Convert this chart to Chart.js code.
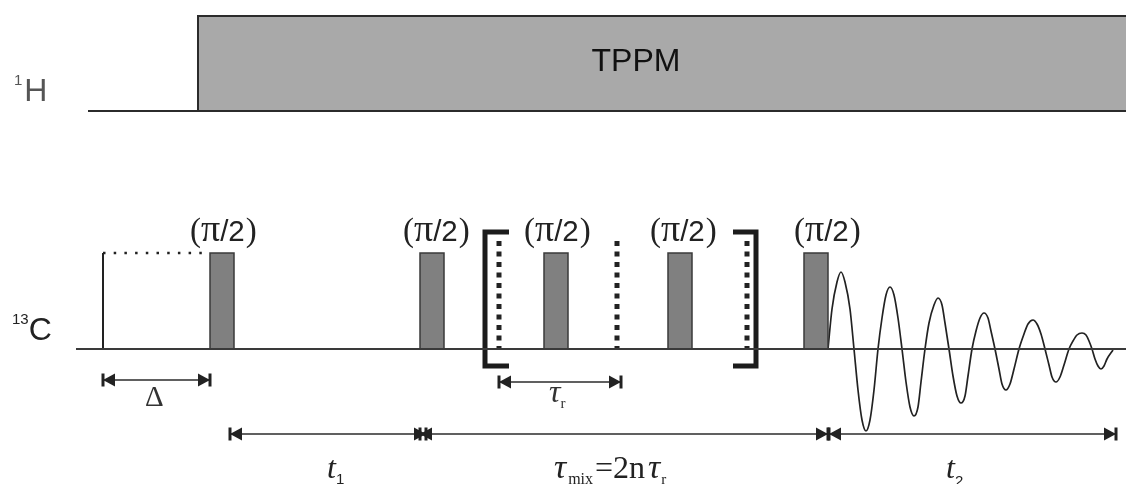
<!DOCTYPE html>
<html>
<head>
<meta charset="utf-8">
<title>Pulse sequence</title>
<script src="https://cdn.jsdelivr.net/npm/chart.js@4/dist/chart.umd.min.js"></script>
<style>
html, body { margin: 0; padding: 0; background: #fff; }
canvas { display: block; }
</style>
</head>
<body>
<canvas id="sequence" width="1126" height="484"></canvas>
<script>
// channel levels and pulse edges
var protonLevel = 238;
var protonTop = 333;
var protonStart = [88, 198];
var protonEnd = 1126;
var carbonStart = 76;
var carbonEnd = 1126;
var pulseHeight = 96;
var pulseStart = [210, 420, 544, 668, 804];
var pulseEnd = [234, 444, 568, 692, 828];
var delayTime = [103, 205];
var rotorTimes = [499, 617, 747];
var rotorDotTop = 108;
var bracketLeft = [509, 485, 485, 509];
var bracketRight = [733, 756, 756, 733];
var bracketLevels = [117, 117, -17, -17];

// free induction decay, lobe by lobe
var fidTime = [828, 832, 837, 841, 845, 850, 854, 858, 862, 866, 870, 874, 878, 882, 886, 890, 894, 898, 902, 906, 910, 914, 918, 921, 925, 929, 934, 938, 942, 945, 949, 953, 957, 961, 965, 968, 972, 976, 980, 984, 988, 991, 995, 999, 1002, 1006, 1010, 1014, 1019, 1024, 1028, 1033, 1037, 1041, 1045, 1049, 1052, 1056, 1060, 1064, 1069, 1073, 1077, 1082, 1086, 1089, 1092, 1095, 1098, 1101, 1104, 1107, 1113];
var fidAmplitude = [0, 40, 67, 77, 67, 40, 0, -41, -71, -82, -71, -41, 0, 31, 54, 62, 54, 31, 0, -33, -58, -67, -58, -33, 0, 26, 44, 51, 44, 26, 0, -27, -47, -54, -47, -27, 0, 18, 31, 36, 31, 18, 0, -20, -35, -41, -35, -20, 0, 15, 25, 29, 25, 15, 0, -16, -28, -33, -28, -16, 0, 8, 14, 16, 14, 8, 0, -10, -17, -20, -17, -10, -1];

// time spans with arrows
var spanStart = [103, 499, 230, 420, 829];
var spanEnd = [210, 621, 426, 828, 1116];
var spanLevel = [-31, -33, -85, -85, -85];

var pulseLabelCentre = [224, 437, 558, 684, 828];
var pulseLabelLevel = 108;

var serif = '"Liberation Serif"';
var sans = '"Liberation Sans"';

function line(points, color, width, extra) {
	return Object.assign({
		data: points,
		showLine: true,
		borderColor: color,
		borderWidth: width,
		pointRadius: 0,
		tension: 0,
		fill: false
	}, extra || {});
}

function arrowHead() {
	var c = document.createElement('canvas');
	c.width = 26;
	c.height = 14;
	var g = c.getContext('2d');
	g.fillStyle = '#222';
	g.fillRect(11.5, 0.5, 3, 13);
	g.beginPath();
	g.moveTo(13, 7);
	g.lineTo(25, 0.5);
	g.lineTo(25, 13.5);
	g.closePath();
	g.fill();
	return c;
}

var head = arrowHead();
var datasets = [];

// baselines
datasets.push(line([{x: protonStart[0], y: protonLevel}, {x: protonEnd, y: protonLevel}], '#2b2b2b', 2));
datasets.push(line([{x: carbonStart, y: 0}, {x: carbonEnd, y: 0}], '#3a3a3a', 2));

// TPPM block
datasets.push(line([
	{x: protonStart[1], y: protonLevel},
	{x: protonStart[1], y: protonTop},
	{x: protonEnd, y: protonTop}
], '#2b2b2b', 2, {fill: {value: protonLevel}, backgroundColor: '#a9a9a9'}));

// pulses
pulseStart.forEach(function(s, i) {
	datasets.push(line([
		{x: s, y: 0},
		{x: s, y: pulseHeight},
		{x: pulseEnd[i], y: pulseHeight},
		{x: pulseEnd[i], y: 0}
	], '#3a3a3a', 1.5, {fill: {value: 0}, backgroundColor: '#808080'}));
});

// delay before first pulse
datasets.push(line([{x: delayTime[0], y: 0}, {x: delayTime[0], y: pulseHeight}], '#222', 2));
datasets.push(line([{x: delayTime[0], y: pulseHeight}, {x: delayTime[1], y: pulseHeight}], '#222', 2.5, {borderDash: [2.5, 8.2]}));

// rotor period markers
rotorTimes.forEach(function(t) {
	datasets.push(line([{x: t, y: rotorDotTop}, {x: t, y: 0}], '#222', 5, {borderDash: [5, 5.5]}));
});

// brackets
[bracketLeft, bracketRight].forEach(function(xs) {
	datasets.push(line(xs.map(function(x, i) {
		return {x: x, y: bracketLevels[i]};
	}), '#1c1c1c', 5, {borderJoinStyle: 'miter'}));
});

// FID
datasets.push(line(fidTime.map(function(t, i) {
	return {x: t, y: fidAmplitude[i]};
}), '#222', 1.7, {cubicInterpolationMode: 'monotone'}));

// arrows
spanStart.forEach(function(s, i) {
	datasets.push(line([{x: s, y: spanLevel[i]}, {x: spanEnd[i], y: spanLevel[i]}], '#2b2b2b', 1.7, {
		pointRadius: 7,
		pointStyle: head,
		pointRotation: [0, 180]
	}));
});

function runs(ctx, x, y, list) {
	list.forEach(function(r) {
		ctx.font = r.f;
		ctx.fillStyle = r.c || '#222';
		x += r.gap || 0;
		ctx.fillText(r.t, x, y + (r.dy || 0));
		x += ctx.measureText(r.t).width;
	});
}

var textPlugin = {
	id: 'sequenceText',
	afterDraw: function(chart) {
		var ctx = chart.ctx;
		var sx = chart.scales.x;
		var sy = chart.scales.y;
		function at(x, level, list) {
			runs(ctx, sx.getPixelForValue(x), sy.getPixelForValue(level), list);
		}
		ctx.save();
		ctx.textAlign = 'left';
		ctx.textBaseline = 'alphabetic';

		ctx.font = '32px ' + sans;
		ctx.fillStyle = '#111';
		ctx.textAlign = 'center';
		ctx.fillText('TPPM', sx.getPixelForValue(636), sy.getPixelForValue(278));
		ctx.textAlign = 'left';

		at(14, 264, [
			{t: '1', f: '15px ' + sans, c: '#555'},
			{t: 'H', f: '32px ' + sans, c: '#555', dy: 16, gap: 2}
		]);
		at(12, 25, [
			{t: '13', f: '15px ' + sans},
			{t: 'C', f: '32px ' + sans, dy: 16}
		]);

		pulseLabelCentre.forEach(function(c) {
			at(c - 34, pulseLabelLevel, [
				{t: '(', f: '33px ' + serif},
				{t: 'π', f: '38px ' + serif},
				{t: '/2', f: '29.5px ' + sans},
				{t: ')', f: '33px ' + serif, gap: 1}
			]);
		});

		at(145, -57, [{t: 'Δ', f: '29px ' + serif, c: '#333'}]);
		at(549, -53, [
			{t: 'τ', f: 'italic 32px ' + serif, c: '#333'},
			{t: 'r', f: '15px ' + serif, c: '#333', dy: 6}
		]);
		at(327, -129, [
			{t: 't', f: 'italic 32px ' + serif},
			{t: '1', f: '15px ' + sans, dy: 6}
		]);
		at(946, -129, [
			{t: 't', f: 'italic 32px ' + serif},
			{t: '2', f: '15px ' + sans, dy: 8}
		]);
		at(554, -129, [
			{t: 'τ', f: 'italic 34px ' + serif},
			{t: 'mix', f: '16px ' + serif, dy: 6, gap: 2},
			{t: '=2n', f: '32px ' + serif, gap: 2},
			{t: 'τ', f: 'italic 34px ' + serif, gap: 3},
			{t: 'r', f: '15px ' + serif, dy: 6, gap: 1}
		]);
		ctx.restore();
	}
};

window.onload = function() {
	var sequence = document.getElementById('sequence').getContext('2d');
	window.sequence = new Chart(sequence, {
		type: 'line',
		data: {datasets: datasets},
		plugins: [textPlugin],
		options: {
			responsive: false,
			animation: false,
			layout: {padding: 0, autoPadding: false},
			plugins: {legend: {display: false}, tooltip: {enabled: false}},
			scales: {
				x: {type: 'linear', display: false, min: 0, max: 1126},
				y: {type: 'linear', display: false, min: -135, max: 349}
			}
		}
	});
};
</script>
</body>
</html>
